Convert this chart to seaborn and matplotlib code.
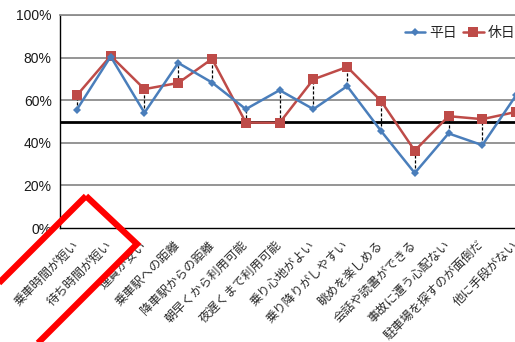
import matplotlib
matplotlib.use("Agg")
import matplotlib.pyplot as plt
from matplotlib.patches import Polygon
from matplotlib.lines import Line2D
from matplotlib.ticker import FuncFormatter, FixedLocator
import numpy as np
import pandas as pd
import seaborn as sns

# Reasons for choosing the mode of transport
categories = [
    "乗車時間が短い", "待ち時間が短い", "運賃が安い", "乗車駅への距離",
    "降車駅からの距離", "朝早くから利用可能", "夜遅くまで利用可能", "乗り心地がよい",
    "乗り降りがしやすい", "眺めを楽しめる", "会話や読書ができる", "事故に遭う心配ない",
    "駐車場を探すのが面倒だ", "他に手段がない",
]
weekday = [55.6, 80.5, 54.1, 77.5, 68.3, 55.8, 64.7, 55.8, 66.6, 45.6, 25.8, 44.4, 38.9, 62.3]
holiday = [62.3, 80.8, 65.2, 68.1, 79.4, 49.5, 49.4, 69.8, 75.6, 59.7, 36.3, 52.5, 51.1, 54.5]
series_names = ["平日", "休日"]
reference_level = 49.6
y_ticks = [0, 20, 40, 60, 80, 100]

BLUE = "#4A7EBB"
RED = "#BE4B48"

sns.set_theme(style="white")
plt.rcParams["font.family"] = ["Liberation Sans", "Noto Sans CJK JP", "DejaVu Sans"]

n = len(categories)
pos = np.arange(n)
df = pd.DataFrame({
    "pos": np.concatenate([pos, pos]),
    "value": weekday + holiday,
    "series": [series_names[0]] * n + [series_names[1]] * n,
})

fig = plt.figure(figsize=(5.15, 3.42), dpi=100)
ax = fig.add_axes([60 / 515, 1 - 228 / 342, 473 / 515, 213 / 342])

# gridlines and reference line
for yv in y_ticks[1:]:
    ax.axhline(yv, color="#8C8C8C", lw=1.3, zorder=0)
ax.axhline(reference_level, color="black", lw=2.0, zorder=1)

# drop lines between the two series
ax.vlines(pos, np.minimum(weekday, holiday), np.maximum(weekday, holiday),
          colors="black", linestyles=(0, (2.5, 1.5)), lw=0.9, zorder=2)

sns.lineplot(data=df[df.series == series_names[1]], x="pos", y="value",
             color=RED, lw=1.8, marker="s", markersize=6.5, markeredgewidth=0,
             ax=ax, zorder=3, legend=False)
sns.lineplot(data=df[df.series == series_names[0]], x="pos", y="value",
             color=BLUE, lw=1.8, marker="D", markersize=4.5, markeredgewidth=0,
             ax=ax, zorder=4, legend=False)

ax.set_xlim(-0.5, n - 0.5)
ax.set_ylim(0, 100)
ax.set_xlabel("")
ax.set_ylabel("")

ax.set_yticks(y_ticks)
ax.yaxis.set_major_formatter(FuncFormatter(lambda v, _: f"{v:.0f}%"))
ax.tick_params(axis="y", length=0, pad=6, labelsize=10, labelcolor="#1a1a1a")

ax.set_xticks(pos)
ax.set_xticklabels(categories)
ax.xaxis.set_minor_locator(FixedLocator(np.arange(n + 1) - 0.5))
ax.tick_params(axis="x", which="major", length=0, pad=11, labelsize=8.8, labelcolor="#2a2a2a")
ax.tick_params(axis="x", which="minor", length=3.5, width=0.9, direction="in", color="black")
plt.setp(ax.get_xticklabels(), rotation=45, ha="right", va="center", rotation_mode="anchor")

for side in ["left", "bottom"]:
    ax.spines[side].set_color("black")
    ax.spines[side].set_linewidth(1.0)
ax.spines["top"].set_color("#8C8C8C")
ax.spines["top"].set_linewidth(1.3)
ax.spines["right"].set_visible(False)

handles = [
    Line2D([], [], color=BLUE, lw=1.8, marker="D", markersize=4.5, markeredgewidth=0),
    Line2D([], [], color=RED, lw=1.8, marker="s", markersize=6.5, markeredgewidth=0),
]
ax.legend(handles, series_names, loc="upper right", bbox_to_anchor=(0.975, 0.975),
          ncol=2, frameon=False, fontsize=10, handlelength=1.5, handletextpad=0.3,
          columnspacing=0.4, borderaxespad=0)

# red highlight frame around the first two reasons
corners = [(86, 196), (137, 244), (-13, 394), (-64, 346)]
frame = Polygon([(x / 515, 1 - y / 342) for x, y in corners], closed=True,
                fill=False, edgecolor="#FF0000", lw=4.5, joinstyle="miter",
                transform=fig.transFigure, clip_on=False, zorder=10)
fig.patches.append(frame)

fig.savefig("out.png", dpi=100)
